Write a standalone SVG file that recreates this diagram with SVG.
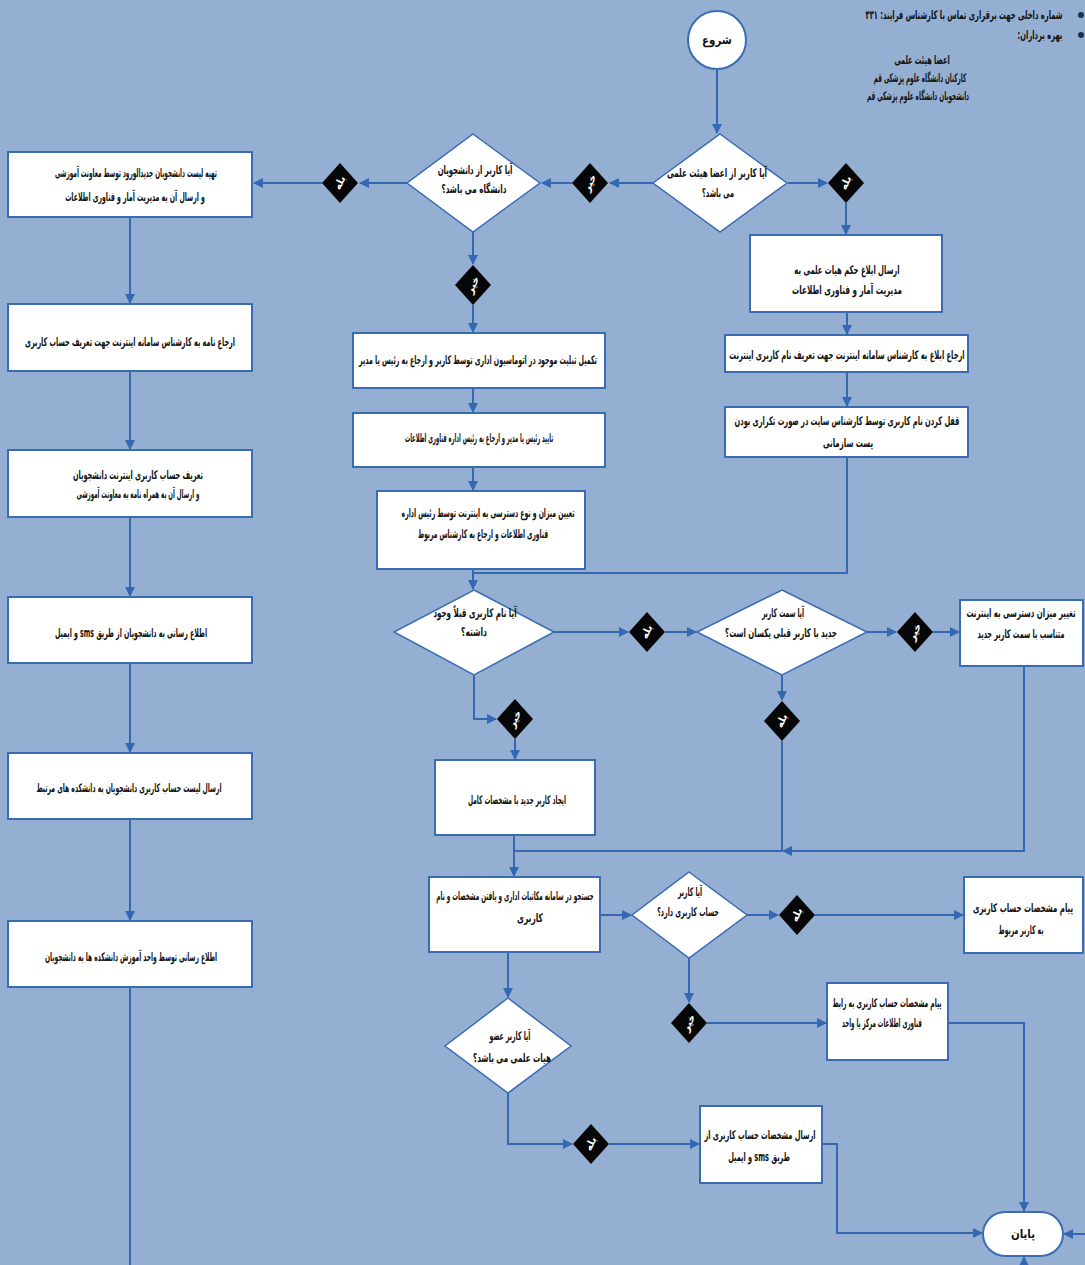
<svg xmlns="http://www.w3.org/2000/svg" xmlns:xlink="http://www.w3.org/1999/xlink" width="1085" height="1265" viewBox="0 0 1085 1265">
<style>
.bg{fill:#95AFD3}
.box{fill:#fff;stroke:#3A6CB4;stroke-width:2}
.dia{fill:#fff;stroke:#3A6CB4;stroke-width:1.5}
.bd{fill:#060606}
.t{font-family:"DejaVu Sans",sans-serif;font-size:12px;font-weight:bold;fill:#111;text-anchor:middle;direction:rtl;dominant-baseline:middle}
.lt{font-family:"DejaVu Sans",sans-serif;font-size:10px;font-weight:bold;fill:#fff;text-anchor:middle;direction:rtl;dominant-baseline:middle}
.cn{fill:none;stroke:#3468B2;stroke-width:2}
.ar{marker-end:url(#ah)}
</style>
<defs>
<marker id="ah" viewBox="0 0 10 10" refX="9" refY="5" markerWidth="10" markerHeight="10" markerUnits="userSpaceOnUse" orient="auto"><path d="M0,0 L10,5 L0,10 z" fill="#3468B2"/></marker>
<path id="bdia" d="M0,-20 L18,0 L0,20 L-18,0 Z"/>
</defs>
<rect class="bg" x="0" y="0" width="1085" height="1265"/>

<g id="header">
<circle cx="1081" cy="15" r="3" fill="#1d2f55"/>
<circle cx="1081" cy="35" r="3" fill="#1d2f55"/>
<text class="t" transform="translate(964,16) scale(0.5,1)" textLength="394" lengthAdjust="spacingAndGlyphs">شماره داخلی جهت برقراری تماس با کارشناس فرایند: ۳۳۱</text>
<text class="t" transform="translate(1040,35) scale(0.65,1)" textLength="69" lengthAdjust="spacingAndGlyphs">بهره برداران:</text>
<text class="t" transform="translate(922,60) scale(0.65,1)" textLength="85" lengthAdjust="spacingAndGlyphs">اعضا هیئت علمی</text>
<text class="t" transform="translate(920,78) scale(0.65,1)" textLength="142" lengthAdjust="spacingAndGlyphs">کارکنان دانشگاه علوم پزشکی قم</text>
<text class="t" transform="translate(918,96) scale(0.65,1)" textLength="157" lengthAdjust="spacingAndGlyphs">دانشجویان دانشگاه علوم پزشکی قم</text>
</g>

<g id="connectors">
<path class="cn ar" d="M717,70 V133"/>
<path class="cn ar" d="M653,183 H610"/>
<path class="cn ar" d="M572,183 H542"/>
<path class="cn ar" d="M407,183 H360"/>
<path class="cn ar" d="M322,183 H254"/>
<path class="cn ar" d="M788,183 H827"/>
<path class="cn ar" d="M846,203 V234"/>
<path class="cn ar" d="M847,312 V334"/>
<path class="cn ar" d="M847,372 V406"/>
<path class="cn" d="M847,457 V573 H473"/>
<path class="cn ar" d="M473,569 V589"/>
<path class="cn ar" d="M473,232 V264"/>
<path class="cn ar" d="M473,305 V332"/>
<path class="cn ar" d="M473,388 V412"/>
<path class="cn ar" d="M473,467 V490"/>
<path class="cn ar" d="M554,632 H628"/>
<path class="cn ar" d="M665,632 H696"/>
<path class="cn ar" d="M867,632 H896"/>
<path class="cn ar" d="M933,632 H959"/>
<path class="cn ar" d="M782,675 V700"/>
<path class="cn" d="M782,741 V851"/>
<path class="cn ar" d="M1024,666 V851 H783"/>
<path class="cn ar" d="M474,675 V719 H496"/>
<path class="cn ar" d="M515,739 V759"/>
<path class="cn" d="M782,851 H514"/>
<path class="cn ar" d="M514,835 V876"/>
<path class="cn ar" d="M600,915 H631"/>
<path class="cn ar" d="M747,915 H778"/>
<path class="cn ar" d="M815,915 H963"/>
<path class="cn ar" d="M689,958 V1002"/>
<path class="cn ar" d="M707,1023 H826"/>
<path class="cn ar" d="M948,1023 H1024 V1211"/>
<path class="cn ar" d="M508,952 V997"/>
<path class="cn ar" d="M508,1093 V1144 H572"/>
<path class="cn ar" d="M609,1144 H699"/>
<path class="cn ar" d="M822,1144 H837 V1233 H982"/>
<path class="cn ar" d="M130,217 V303"/>
<path class="cn ar" d="M130,371 V449"/>
<path class="cn ar" d="M130,517 V596"/>
<path class="cn ar" d="M130,663 V752"/>
<path class="cn ar" d="M130,819 V920"/>
<path class="cn" d="M130,987 V1265"/>
<path class="cn ar" d="M1085,1234 H1064"/>
<path class="cn ar" d="M1024,1265 V1257"/>
</g>

<g id="labels">
<g id="lbl-no1" transform="translate(590,183)"><use xlink:href="#bdia" class="bd"/><text class="lt" transform="rotate(-65)">خیر</text></g>
<g id="lbl-yes1" transform="translate(340,183)"><use xlink:href="#bdia" class="bd"/><text class="lt" transform="rotate(-65)">بله</text></g>
<g id="lbl-yes2" transform="translate(846,183)"><use xlink:href="#bdia" class="bd"/><text class="lt" transform="rotate(-65)">بله</text></g>
<g id="lbl-no2" transform="translate(473,285)"><use xlink:href="#bdia" class="bd"/><text class="lt" transform="rotate(-65)">خیر</text></g>
<g id="lbl-yes3" transform="translate(647,632)"><use xlink:href="#bdia" class="bd"/><text class="lt" transform="rotate(-65)">بله</text></g>
<g id="lbl-no3" transform="translate(915,632)"><use xlink:href="#bdia" class="bd"/><text class="lt" transform="rotate(-65)">خیر</text></g>
<g id="lbl-yes4" transform="translate(782,721)"><use xlink:href="#bdia" class="bd"/><text class="lt" transform="rotate(-65)">بله</text></g>
<g id="lbl-no4" transform="translate(515,719)"><use xlink:href="#bdia" class="bd"/><text class="lt" transform="rotate(-65)">خیر</text></g>
<g id="lbl-yes5" transform="translate(797,915)"><use xlink:href="#bdia" class="bd"/><text class="lt" transform="rotate(-65)">بله</text></g>
<g id="lbl-no5" transform="translate(689,1023)"><use xlink:href="#bdia" class="bd"/><text class="lt" transform="rotate(-65)">خیر</text></g>
<g id="lbl-yes6" transform="translate(591,1144)"><use xlink:href="#bdia" class="bd"/><text class="lt" transform="rotate(-65)">بله</text></g>
</g>

<g id="start"><circle class="box" cx="717" cy="40" r="29"/><text class="t" transform="translate(717,40) scale(0.65,1)" textLength="46" lengthAdjust="spacingAndGlyphs">شروع</text></g>

<g id="d1"><path class="dia" d="M720,134 L787,183 L720,232 L653,183 Z"/>
<text class="t" transform="translate(717,173) scale(0.65,1)" textLength="154" lengthAdjust="spacingAndGlyphs">آیا کاربر از اعضا هیئت علمی</text>
<text class="t" transform="translate(718,193) scale(0.65,1)" textLength="49" lengthAdjust="spacingAndGlyphs">می باشد؟</text></g>

<g id="d2"><path class="dia" d="M473,134 L540,183 L473,232 L407,183 Z"/>
<text class="t" transform="translate(475,170) scale(0.65,1)" textLength="115" lengthAdjust="spacingAndGlyphs">آیا کاربر از دانشجویان</text>
<text class="t" transform="translate(474,189) scale(0.65,1)" textLength="100" lengthAdjust="spacingAndGlyphs">دانشگاه می باشد؟</text></g>

<g id="l1"><rect class="box" x="8" y="152" width="244" height="65"/>
<text class="t" transform="translate(136,173) scale(0.65,1)" textLength="249" lengthAdjust="spacingAndGlyphs">تهیه لیست دانشجویان جدیدالورود توسط معاونت آموزشی</text>
<text class="t" transform="translate(135,197) scale(0.65,1)" textLength="215" lengthAdjust="spacingAndGlyphs">و ارسال آن به مدیریت آمار و فناوری اطلاعات</text></g>

<g id="l2"><rect class="box" x="8" y="304" width="244" height="67"/>
<text class="t" transform="translate(130,342) scale(0.65,1)" textLength="323" lengthAdjust="spacingAndGlyphs">ارجاع نامه به کارشناس سامانه اینترنت جهت تعریف حساب کاربری</text></g>

<g id="l3"><rect class="box" x="8" y="450" width="244" height="67"/>
<text class="t" transform="translate(138,475) scale(0.65,1)" textLength="200" lengthAdjust="spacingAndGlyphs">تعریف حساب کاربری اینترنت دانشجویان</text>
<text class="t" transform="translate(138,494) scale(0.65,1)" textLength="189" lengthAdjust="spacingAndGlyphs">و ارسال آن به همراه نامه به معاونت آموزشی</text></g>

<g id="l4"><rect class="box" x="8" y="597" width="244" height="66"/>
<text class="t" transform="translate(131,633) scale(0.65,1)" textLength="234" lengthAdjust="spacingAndGlyphs">اطلاع رسانی به دانشجویان از طریق sms و ایمیل</text></g>

<g id="l5"><rect class="box" x="8" y="753" width="244" height="66"/>
<text class="t" transform="translate(129,788) scale(0.65,1)" textLength="285" lengthAdjust="spacingAndGlyphs">ارسال لیست حساب کاربری دانشجویان به دانشکده های مرتبط</text></g>

<g id="l6"><rect class="box" x="8" y="921" width="244" height="66"/>
<text class="t" transform="translate(131,957) scale(0.65,1)" textLength="265" lengthAdjust="spacingAndGlyphs">اطلاع رسانی توسط واحد آموزش دانشکده ها به دانشجویان</text></g>

<g id="r1"><rect class="box" x="750" y="235" width="192" height="77"/>
<text class="t" transform="translate(847,270) scale(0.65,1)" textLength="162" lengthAdjust="spacingAndGlyphs">ارسال ابلاغ حکم هیات علمی به</text>
<text class="t" transform="translate(847,290) scale(0.65,1)" textLength="169" lengthAdjust="spacingAndGlyphs">مدیریت آمار و فناوری اطلاعات</text></g>

<g id="r2"><rect class="box" x="725" y="335" width="243" height="37"/>
<text class="t" transform="translate(847,355) scale(0.65,1)" textLength="362" lengthAdjust="spacingAndGlyphs">ارجاع ابلاغ به کارشناس سامانه اینترنت جهت تعریف نام کاربری اینترنت</text></g>

<g id="r3"><rect class="box" x="725" y="407" width="243" height="50"/>
<text class="t" transform="translate(847,421) scale(0.65,1)" textLength="346" lengthAdjust="spacingAndGlyphs">قفل کردن نام کاربری توسط کارشناس سایت در صورت تکراری بودن</text>
<text class="t" transform="translate(848,443) scale(0.65,1)" textLength="77" lengthAdjust="spacingAndGlyphs">پست سازمانی</text></g>

<g id="c1"><rect class="box" x="353" y="333" width="252" height="55"/>
<text class="t" transform="translate(478,360) scale(0.65,1)" textLength="366" lengthAdjust="spacingAndGlyphs">تکمیل تبلیت موجود در اتوماسیون اداری توسط کاربر و ارجاع به رئیس یا مدیر</text></g>

<g id="c2"><rect class="box" x="353" y="413" width="252" height="54"/>
<text class="t" transform="translate(479,438) scale(0.65,1)" textLength="228" lengthAdjust="spacingAndGlyphs">تایید رئیس یا مدیر و ارجاع به رئیس اداره فناوری اطلاعات</text></g>

<g id="c3"><rect class="box" x="377" y="491" width="208" height="78"/>
<text class="t" transform="translate(488,513) scale(0.65,1)" textLength="266" lengthAdjust="spacingAndGlyphs">تعیین میزان و نوع دسترسی به اینترنت توسط رئیس اداره</text>
<text class="t" transform="translate(483,534) scale(0.65,1)" textLength="200" lengthAdjust="spacingAndGlyphs">فناوری اطلاعات و ارجاع به کارشناس مربوط</text></g>

<g id="d3"><path class="dia" d="M474,590 L554,632 L474,675 L394,632 Z"/>
<text class="t" transform="translate(475,613) scale(0.65,1)" textLength="128" lengthAdjust="spacingAndGlyphs">آیا نام کاربری قبلاً وجود</text>
<text class="t" transform="translate(474,632) scale(0.65,1)" textLength="40" lengthAdjust="spacingAndGlyphs">داشته؟</text></g>

<g id="d4"><path class="dia" d="M782,590 L867,632 L782,675 L697,632 Z"/>
<text class="t" transform="translate(783,613) scale(0.65,1)" textLength="65" lengthAdjust="spacingAndGlyphs">آیا سمت کاربر</text>
<text class="t" transform="translate(781,633) scale(0.65,1)" textLength="172" lengthAdjust="spacingAndGlyphs">جدید با کاربر قبلی یکسان است؟</text></g>

<g id="r4"><rect class="box" x="960" y="600" width="123" height="66"/>
<text class="t" transform="translate(1021,614) scale(0.5,1)" textLength="218" lengthAdjust="spacingAndGlyphs">تغییر میزان دسترسی به اینترنت</text>
<text class="t" transform="translate(1021,634) scale(0.6,1)" textLength="145" lengthAdjust="spacingAndGlyphs">متناسب با سمت کاربر جدید</text></g>

<g id="c4"><rect class="box" x="435" y="760" width="160" height="75"/>
<text class="t" transform="translate(517,800) scale(0.65,1)" textLength="151" lengthAdjust="spacingAndGlyphs">ایجاد کاربر جدید با مشخصات کامل</text></g>

<g id="c5"><rect class="box" x="429" y="877" width="171" height="75"/>
<text class="t" transform="translate(515,896) scale(0.65,1)" textLength="242" lengthAdjust="spacingAndGlyphs">جستجو در سامانه مکاتبات اداری و یافتن مشخصات و نام</text>
<text class="t" transform="translate(530,918) scale(0.65,1)" textLength="40" lengthAdjust="spacingAndGlyphs">کاربری</text></g>

<g id="d5"><path class="dia" d="M689,872 L747,915 L689,958 L632,915 Z"/>
<text class="t" transform="translate(690,892) scale(0.65,1)" textLength="37" lengthAdjust="spacingAndGlyphs">آیا کاربر</text>
<text class="t" transform="translate(688,912) scale(0.65,1)" textLength="95" lengthAdjust="spacingAndGlyphs">حساب کاربری دارد؟</text></g>

<g id="r5"><rect class="box" x="964" y="877" width="119" height="76"/>
<text class="t" transform="translate(1023,908) scale(0.65,1)" textLength="154" lengthAdjust="spacingAndGlyphs">پیام مشخصات حساب کاربری</text>
<text class="t" transform="translate(1021,930) scale(0.65,1)" textLength="69" lengthAdjust="spacingAndGlyphs">به کاربر مربوط</text></g>

<g id="r6"><rect class="box" x="827" y="983" width="121" height="77"/>
<text class="t" transform="translate(887,1003) scale(0.65,1)" textLength="168" lengthAdjust="spacingAndGlyphs">پیام مشخصات حساب کاربری به رابط</text>
<text class="t" transform="translate(882,1023) scale(0.65,1)" textLength="123" lengthAdjust="spacingAndGlyphs">فناوری اطلاعات مرکز یا واحد</text></g>

<g id="d6"><path class="dia" d="M508,998 L571,1046 L508,1093 L445,1046 Z"/>
<text class="t" transform="translate(510,1036) scale(0.65,1)" textLength="63" lengthAdjust="spacingAndGlyphs">آیا کاربر عضو</text>
<text class="t" transform="translate(512,1058) scale(0.65,1)" textLength="120" lengthAdjust="spacingAndGlyphs">هیات علمی می باشد؟</text></g>

<g id="r7"><rect class="box" x="700" y="1106" width="122" height="77"/>
<text class="t" transform="translate(760,1135) scale(0.65,1)" textLength="171" lengthAdjust="spacingAndGlyphs">ارسال مشخصات حساب کاربری از</text>
<text class="t" transform="translate(759,1157) scale(0.65,1)" textLength="95" lengthAdjust="spacingAndGlyphs">طریق sms و ایمیل</text></g>

<g id="end"><rect class="box" x="983" y="1212" width="80" height="44" rx="22" ry="22"/>
<text class="t" transform="translate(1023,1234) scale(0.65,1)" textLength="37" lengthAdjust="spacingAndGlyphs">پایان</text></g>
</svg>
